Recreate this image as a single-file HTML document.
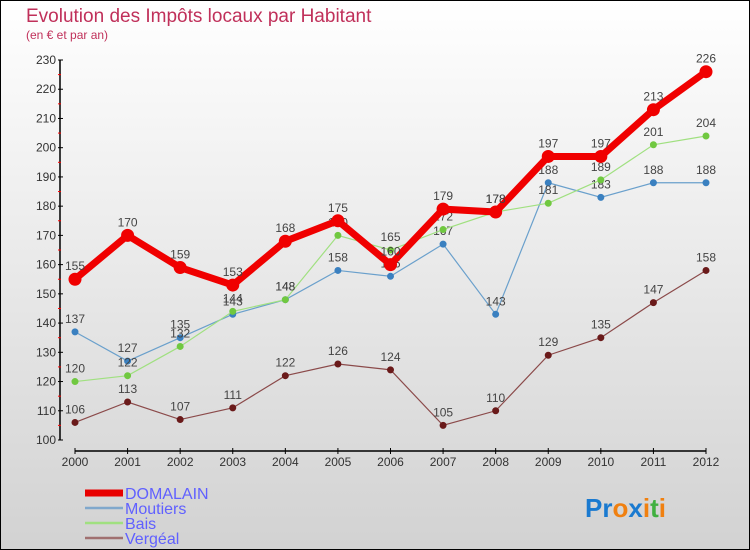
<!DOCTYPE html>
<html><head><meta charset="utf-8"><style>
body{margin:0}
#c{width:750px;height:550px;position:relative;box-sizing:border-box;border:1px solid #000;background:linear-gradient(#fff,#d2d2d2);font-family:"Liberation Sans",sans-serif;overflow:hidden}
</style></head><body>
<div id="c">
<svg id="s" width="750" height="550" style="position:absolute;left:-1px;top:-1px"></svg>
</div>
<script>
const years=["2000","2001","2002","2003","2004","2005","2006","2007","2008","2009","2010","2011","2012"];
const domalain=[155,170,159,153,168,175,160,179,178,197,197,213,226];
const moutiers=[137,127,135,143,148,158,156,167,143,188,183,188,188];
const bais=[120,122,132,144,148,170,165,172,178,181,189,201,204];
const vergeal=[106,113,107,111,122,126,124,105,110,129,135,147,158];
const yTicks=[100,110,120,130,140,150,160,170,180,190,200,210,220,230];
const NS="http://www.w3.org/2000/svg";
const svg=document.getElementById('s');
function x(i){return 75+i*(706-75)/12;}
function y(v){return 440-(v-100)*(380/130);}
function el(t,a,p){const e=document.createElementNS(NS,t);for(const k in a)e.setAttribute(k,a[k]);(p||svg).appendChild(e);return e;}
function txt(s,a){const e=el('text',a);e.textContent=s;return e;}
let t=txt("Evolution des Impôts locaux par Habitant",{x:26,y:22,'font-size':19,fill:'#c0305a'});


t=txt("(en € et par an)",{x:26,y:39,'font-size':12,fill:'#c0305a'});


let ax=el('line',{x1:60,y1:y(230),x2:60,y2:y(100),stroke:'#000','stroke-width':1.5});


ax=el('line',{x1:75,y1:451,x2:706,y2:451,stroke:'#000','stroke-width':1.5});


yTicks.forEach(v=>{el('line',{x1:58,x2:63,y1:y(v),y2:y(v),stroke:'#000'});
 if(v<230)el('line',{x1:58,x2:61,y1:y(v+5),y2:y(v+5),stroke:'#f00'});
 const l=txt(v,{x:56,y:y(v)+4,'font-size':12,fill:'#333','text-anchor':'end'});
 
 });
years.forEach((yr,i)=>{el('line',{x1:x(i),x2:x(i),y1:448,y2:454,stroke:'#000'});
 const l=txt(yr,{x:x(i),y:466,'font-size':12,fill:'#333','text-anchor':'middle'});
 
 });
function series(d,col,w,r,dot,name){
 const g=el('g',{});
 
 
 el('polyline',{points:d.map((v,i)=>x(i)+','+y(v)).join(' '),fill:'none',stroke:col,'stroke-width':w},g);
 d.forEach((v,i)=>{el('circle',{cx:x(i),cy:y(v),r:r,fill:dot,stroke:dot},g);
  const l=txt(v,{x:x(i),y:y(v)-9,'font-size':12,fill:'#444','text-anchor':'middle'});
  
  });
}
series(vergeal,'#8b4a4a',1.2,3,'#6a1a1a','series-vergeal');
series(moutiers,'#6aa0cc',1.2,3,'#3a80c0','series-moutiers');
series(bais,'#a0e080',1.2,3,'#70c840','series-bais');
series(domalain,'#f00000',7,6,'#f00000','series-domalain');
const leg=[["DOMALAIN","#e80000",7],["Moutiers","#80a8cc",2.5],["Bais","#a0e080",2.5],["Vergéal","#a07070",2.5]];
leg.forEach((l,i)=>{const yy=493+i*15;
 el('line',{x1:85,x2:123,y1:yy,y2:yy,stroke:l[1],'stroke-width':l[2]});
 const tt=txt(l[0],{x:125,y:yy+6,'font-size':16,fill:'#6060ff'});
 
 });
const logo=txt("",{x:585,y:517,'font-size':26,'font-weight':'bold'});


[["Pr","#1a7ad0"],["o","#f08010"],["x","#1a7ad0"],["i","#f08010"],["t","#40b040"],["i","#f08010"]].forEach(p=>{const s=el('tspan',{fill:p[1]},logo);s.textContent=p[0];});
</script>
</body></html>
